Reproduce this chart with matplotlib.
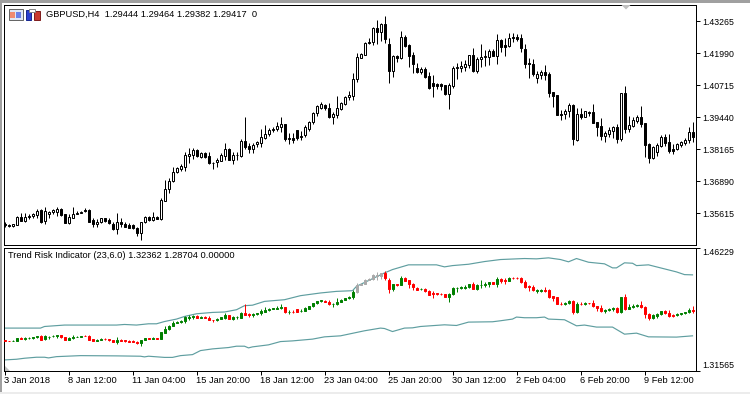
import matplotlib
matplotlib.use("Agg")
import matplotlib.pyplot as plt
from matplotlib.patches import Polygon, Rectangle
from matplotlib.transforms import Affine2D

highs = [
    1.3526, 1.3518, 1.3521, 1.3551, 1.3562, 1.3562, 1.3558, 1.3563, 1.3578, 1.3579, 1.3586, 1.3571,
    1.3579, 1.3586, 1.3584, 1.3558, 1.3560, 1.3586, 1.3572, 1.3572, 1.3582, 1.3579, 1.3542, 1.3538,
    1.3545, 1.3545, 1.3542, 1.3526, 1.3562, 1.3542, 1.3526, 1.3525, 1.3521, 1.3509, 1.3529, 1.3553,
    1.3553, 1.3566, 1.3553, 1.3623, 1.3695, 1.3703, 1.3748, 1.3748, 1.3758, 1.3807, 1.3823, 1.3821,
    1.3816, 1.3807, 1.3805, 1.3805, 1.3767, 1.3781, 1.3801, 1.3841, 1.3821, 1.3807, 1.3807, 1.3857,
    1.3947, 1.3843, 1.3841, 1.3851, 1.3896, 1.3914, 1.3900, 1.3904, 1.3924, 1.3947, 1.3917, 1.3880,
    1.3883, 1.3894, 1.3890, 1.3914, 1.3928, 1.3966, 1.3993, 1.4004, 1.3996, 1.4001, 1.3966, 1.4029,
    1.4006, 1.4029, 1.4049, 1.4119, 1.4201, 1.4200, 1.4243, 1.4260, 1.4305, 1.4331, 1.4318, 1.4347,
    1.4259, 1.4192, 1.4192, 1.4289, 1.4272, 1.4234, 1.4205, 1.4159, 1.4146, 1.4146, 1.4124, 1.4112,
    1.4082, 1.4082, 1.4073, 1.4082, 1.4150, 1.4159, 1.4169, 1.4172, 1.4192, 1.4219, 1.4185, 1.4236,
    1.4212, 1.4215, 1.4215, 1.4276, 1.4255, 1.4261, 1.4278, 1.4278, 1.4276, 1.4276, 1.4236, 1.4179,
    1.4176, 1.4130, 1.4132, 1.4152, 1.4126, 1.4046, 1.4033, 1.3973, 1.3977, 1.4000, 1.3997, 1.3980,
    1.3980, 1.3970, 1.3969, 1.3997, 1.3927, 1.3943, 1.3891, 1.3904, 1.3911, 1.3917, 1.4041, 1.4069,
    1.3949, 1.3947, 1.3953, 1.3989, 1.3923, 1.3842, 1.3830, 1.3843, 1.3874, 1.3876, 1.3876, 1.3838,
    1.3843, 1.3851, 1.3861, 1.3904, 1.3927,
]
lows = [
    1.3509, 1.3508, 1.3509, 1.3516, 1.3531, 1.3529, 1.3538, 1.3542, 1.3545, 1.3522, 1.3521, 1.3542,
    1.3558, 1.3553, 1.3553, 1.3525, 1.3520, 1.3542, 1.3558, 1.3562, 1.3568, 1.3529, 1.3509, 1.3509,
    1.3522, 1.3529, 1.3518, 1.3496, 1.3481, 1.3509, 1.3506, 1.3502, 1.3498, 1.3473, 1.3456, 1.3523,
    1.3533, 1.3531, 1.3538, 1.3535, 1.3611, 1.3643, 1.3688, 1.3721, 1.3730, 1.3730, 1.3763, 1.3778,
    1.3787, 1.3783, 1.3783, 1.3758, 1.3738, 1.3748, 1.3771, 1.3774, 1.3774, 1.3757, 1.3774, 1.3787,
    1.3818, 1.3803, 1.3801, 1.3825, 1.3827, 1.3858, 1.3871, 1.3887, 1.3891, 1.3887, 1.3851, 1.3838,
    1.3841, 1.3854, 1.3854, 1.3866, 1.3891, 1.3916, 1.3949, 1.3977, 1.3973, 1.3940, 1.3916, 1.3943,
    1.3973, 1.3994, 1.4013, 1.4013, 1.4086, 1.4179, 1.4192, 1.4236, 1.4232, 1.4235, 1.4249, 1.4239,
    1.4082, 1.4106, 1.4165, 1.4176, 1.4223, 1.4146, 1.4119, 1.4119, 1.4116, 1.4099, 1.4057, 1.4024,
    1.4056, 1.4053, 1.4033, 1.3978, 1.4061, 1.4095, 1.4126, 1.4128, 1.4139, 1.4126, 1.4122, 1.4146,
    1.4150, 1.4152, 1.4188, 1.4156, 1.4203, 1.4189, 1.4225, 1.4245, 1.4249, 1.4205, 1.4142, 1.4102,
    1.4110, 1.4082, 1.4095, 1.4093, 1.4025, 1.3986, 1.3953, 1.3935, 1.3936, 1.3947, 1.3834, 1.3850,
    1.3937, 1.3944, 1.3950, 1.3920, 1.3871, 1.3854, 1.3846, 1.3867, 1.3863, 1.3843, 1.3850, 1.3880,
    1.3887, 1.3907, 1.3920, 1.3907, 1.3787, 1.3763, 1.3777, 1.3790, 1.3827, 1.3830, 1.3803, 1.3797,
    1.3814, 1.3827, 1.3834, 1.3841, 1.3847,
]
opens = [
    1.3521, 1.3516, 1.3510, 1.3516, 1.3547, 1.3533, 1.3546, 1.3550, 1.3555, 1.3575, 1.3531, 1.3561,
    1.3568, 1.3568, 1.3579, 1.3558, 1.3525, 1.3545, 1.3559, 1.3563, 1.3575, 1.3575, 1.3535, 1.3518,
    1.3526, 1.3542, 1.3537, 1.3521, 1.3500, 1.3527, 1.3520, 1.3516, 1.3516, 1.3502, 1.3485, 1.3529,
    1.3547, 1.3535, 1.3546, 1.3539, 1.3612, 1.3658, 1.3692, 1.3726, 1.3738, 1.3748, 1.3791, 1.3794,
    1.3814, 1.3786, 1.3801, 1.3789, 1.3763, 1.3765, 1.3771, 1.3790, 1.3818, 1.3774, 1.3793, 1.3791,
    1.3850, 1.3830, 1.3818, 1.3837, 1.3843, 1.3861, 1.3876, 1.3892, 1.3896, 1.3907, 1.3917, 1.3858,
    1.3861, 1.3894, 1.3866, 1.3874, 1.3896, 1.3924, 1.3960, 1.3982, 1.3993, 1.3980, 1.3947, 1.3953,
    1.3978, 1.3998, 1.4024, 1.4030, 1.4095, 1.4181, 1.4193, 1.4239, 1.4243, 1.4298, 1.4285, 1.4315,
    1.4237, 1.4130, 1.4188, 1.4181, 1.4263, 1.4232, 1.4192, 1.4139, 1.4126, 1.4135, 1.4109, 1.4079,
    1.4077, 1.4075, 1.4073, 1.4037, 1.4069, 1.4139, 1.4142, 1.4146, 1.4152, 1.4192, 1.4130, 1.4175,
    1.4183, 1.4185, 1.4208, 1.4189, 1.4252, 1.4232, 1.4229, 1.4264, 1.4264, 1.4259, 1.4216, 1.4160,
    1.4156, 1.4102, 1.4112, 1.4124, 1.4116, 1.4044, 1.4033, 1.3957, 1.3956, 1.3969, 1.3993, 1.3854,
    1.3957, 1.3947, 1.3966, 1.3964, 1.3924, 1.3910, 1.3870, 1.3878, 1.3891, 1.3906, 1.3858, 1.4040,
    1.3898, 1.3911, 1.3931, 1.3944, 1.3920, 1.3838, 1.3782, 1.3807, 1.3830, 1.3865, 1.3845, 1.3817,
    1.3817, 1.3834, 1.3843, 1.3853, 1.3884,
]
closes = [
    1.3516, 1.3510, 1.3518, 1.3547, 1.3533, 1.3547, 1.3551, 1.3558, 1.3571, 1.3529, 1.3571, 1.3566,
    1.3574, 1.3579, 1.3555, 1.3525, 1.3546, 1.3559, 1.3564, 1.3568, 1.3571, 1.3529, 1.3518, 1.3529,
    1.3542, 1.3531, 1.3522, 1.3498, 1.3526, 1.3518, 1.3509, 1.3505, 1.3502, 1.3485, 1.3526, 1.3549,
    1.3537, 1.3549, 1.3541, 1.3615, 1.3659, 1.3692, 1.3726, 1.3741, 1.3750, 1.3793, 1.3798, 1.3814,
    1.3790, 1.3802, 1.3786, 1.3763, 1.3762, 1.3774, 1.3794, 1.3818, 1.3774, 1.3794, 1.3794, 1.3851,
    1.3827, 1.3819, 1.3835, 1.3846, 1.3865, 1.3878, 1.3894, 1.3899, 1.3910, 1.3917, 1.3858, 1.3861,
    1.3855, 1.3862, 1.3868, 1.3906, 1.3924, 1.3960, 1.3989, 1.3996, 1.3980, 1.3947, 1.3956, 1.3980,
    1.4000, 1.4024, 1.4032, 1.4095, 1.4183, 1.4195, 1.4239, 1.4244, 1.4298, 1.4285, 1.4315, 1.4255,
    1.4130, 1.4187, 1.4181, 1.4263, 1.4229, 1.4189, 1.4157, 1.4124, 1.4135, 1.4106, 1.4060, 1.4069,
    1.4069, 1.4070, 1.4037, 1.4071, 1.4139, 1.4146, 1.4148, 1.4156, 1.4191, 1.4130, 1.4175, 1.4183,
    1.4188, 1.4208, 1.4189, 1.4252, 1.4225, 1.4225, 1.4261, 1.4259, 1.4257, 1.4219, 1.4156, 1.4155,
    1.4116, 1.4115, 1.4124, 1.4112, 1.4041, 1.4029, 1.3953, 1.3953, 1.3969, 1.3993, 1.3857, 1.3957,
    1.3947, 1.3968, 1.3962, 1.3923, 1.3907, 1.3871, 1.3883, 1.3894, 1.3904, 1.3858, 1.4040, 1.3898,
    1.3912, 1.3933, 1.3945, 1.3919, 1.3835, 1.3782, 1.3825, 1.3833, 1.3865, 1.3843, 1.3811, 1.3811,
    1.3838, 1.3845, 1.3854, 1.3884, 1.3867,
]

# bars the indicator paints grey
grey_bars = [88, 89, 90, 91, 92, 93, 94]

upper_bars = [0, 9, 10, 15, 28, 30, 33, 36, 38, 40, 43, 45, 48, 52, 55, 58, 60, 62, 65, 70, 74, 79, 83, 87, 88,
              95, 97, 101, 108, 110, 112, 116, 120, 124, 130, 133, 136, 139, 141, 143, 146, 150, 152, 153,
              155, 157, 158, 161, 164, 168, 170, 172]
upper_band = [1.3666, 1.3666, 1.3685, 1.3702, 1.3702, 1.3709, 1.3702, 1.3717, 1.3717, 1.3744, 1.3773, 1.3804,
              1.3836, 1.3852, 1.3857, 1.3884, 1.3932, 1.3938, 1.3983, 1.4003, 1.4051, 1.4083, 1.4102, 1.4110,
              1.4162, 1.4321, 1.4361, 1.4417, 1.4417, 1.4393, 1.4408, 1.4424, 1.4456, 1.4480, 1.4492, 1.4488,
              1.4500, 1.4480, 1.4453, 1.4492, 1.4448, 1.4429, 1.4381, 1.4381, 1.4441, 1.4436, 1.4408, 1.4417,
              1.4381, 1.4333, 1.4301, 1.4298]
lower_bars = [0, 3, 5, 8, 10, 11, 13, 19, 28, 34, 35, 36, 40, 42, 44, 47, 49, 52, 56, 58, 60, 61, 62, 66, 69, 72,
              77, 80, 84, 90, 94, 95, 97, 100, 102, 104, 110, 113, 116, 122, 124, 127, 128, 130, 133, 135, 136,
              140, 143, 145, 148, 152, 155, 158, 161, 168, 172]
lower_band = [1.3288, 1.3296, 1.3308, 1.3320, 1.3320, 1.3312, 1.3327, 1.3339, 1.3336, 1.3332, 1.3324, 1.3332,
              1.3318, 1.3318, 1.3339, 1.3351, 1.3399, 1.3419, 1.3435, 1.3451, 1.3451, 1.3431, 1.3443, 1.3467,
              1.3506, 1.3514, 1.3535, 1.3562, 1.3574, 1.3634, 1.3666, 1.3661, 1.3625, 1.3666, 1.3669, 1.3685,
              1.3705, 1.3697, 1.3737, 1.3741, 1.3753, 1.3773, 1.3797, 1.3789, 1.3789, 1.3797, 1.3773, 1.3765,
              1.3693, 1.3702, 1.3678, 1.3678, 1.3594, 1.3606, 1.3562, 1.3559, 1.3574]

price_ticks = [1.43265, 1.41990, 1.40715, 1.39440, 1.38165, 1.36890, 1.35615]
price_labels = ["1.43265", "1.41990", "1.40715", "1.39440", "1.38165", "1.36890", "1.35615"]
time_ticks = [0, 16, 32, 48, 64, 80, 96, 112, 128, 144, 160]
time_labels = ["3 Jan 2018", "8 Jan 12:00", "11 Jan 04:00", "15 Jan 20:00", "18 Jan 12:00", "23 Jan 04:00",
               "25 Jan 20:00", "30 Jan 12:00", "2 Feb 04:00", "6 Feb 20:00", "9 Feb 12:00"]
indicator_top, indicator_bottom = 1.46229, 1.31565

FONT = "Liberation Sans"
SIZE = 6.7
SIZE_PRECO = 6.3
W, H = 750, 394
LW = 0.72


def velas(ax, cores_corpo, cores_borda):
    barras = range(len(opens))
    ax.vlines(barras, lows, highs, colors=cores_borda, linewidth=LW, zorder=2)
    baixo = [min(o, c) for o, c in zip(opens, closes)]
    altura = [abs(o - c) for o, c in zip(opens, closes)]
    ax.bar(barras, altura, width=0.5, bottom=baixo, color=cores_corpo, edgecolor=cores_borda, linewidth=LW, zorder=3)


def eixo(fig, esquerda, topo, direita, base):
    ax = fig.add_axes([esquerda / W, 1 - base / H, (direita - esquerda) / W, (base - topo) / H])
    ax.set_xlim((esquerda - 4.5) / 4, (direita - 4.5) / 4)
    for lado in ax.spines.values():
        lado.set_linewidth(LW)
    ax.yaxis.tick_right()
    return ax


def main():
    fig = plt.figure(figsize=(W / 100, H / 100), dpi=100, facecolor="white")
    px = Affine2D().scale(1, -1).translate(0, H)

    # janela
    fig.add_artist(Rectangle((0, 0), W, 2.5, transform=px, color="#a0a0a0", lw=0))
    fig.add_artist(Rectangle((0, 0), 2, H, transform=px, color="#a0a0a0", lw=0))
    fig.add_artist(Rectangle((0, 392), W, 2, transform=px, color="#ececec", lw=0))

    # grafico de precos
    topo = eixo(fig, 4, 4.5, 695.5, 245)
    topo.set_ylim(1.4411 - 0.000398 * 245, 1.4411 - 0.000398 * 4.5)
    brancos = ["white" if c >= o else "black" for o, c in zip(opens, closes)]
    velas(topo, brancos, "black")
    topo.set_xticks([])
    topo.set_yticks(price_ticks, price_labels, fontsize=SIZE_PRECO, family=FONT)
    topo.tick_params(axis="y", length=3, width=LW, pad=2, colors="black")

    # indicador
    baixo = eixo(fig, 4, 247.5, 695.5, 371)
    baixo.set_ylim(indicator_bottom, indicator_top)
    cores = ["#a9a9a9" if i in grey_bars else ("#008000" if closes[i] >= opens[i] else "#ff0000")
             for i in range(len(opens))]
    baixo.plot(upper_bars, upper_band, color="#5f9ea0", linewidth=0.85, zorder=1)
    baixo.plot(lower_bars, lower_band, color="#5f9ea0", linewidth=0.85, zorder=1)
    velas(baixo, cores, cores)
    baixo.set_yticks([indicator_top, indicator_bottom], ["", ""])
    baixo.tick_params(axis="y", length=3, width=LW)
    baixo.set_xticks(time_ticks, [""] * len(time_ticks))
    baixo.tick_params(axis="x", length=3, width=LW)
    for t, rotulo in zip(time_ticks, time_labels):
        fig.text(4 + 4 * t, 380.5, rotulo, transform=px, fontsize=SIZE, family=FONT, ha="left", va="center")
    fig.text(702, 252.5, "1.46229", transform=px, fontsize=SIZE_PRECO, family=FONT, va="center")
    fig.text(702, 365.5, "1.31565", transform=px, fontsize=SIZE_PRECO, family=FONT, va="center")

    # textos do painel
    fig.text(46, 14.5, "GBPUSD,H4  1.29444 1.29464 1.29382 1.29417  0", transform=px, fontsize=SIZE, family=FONT, va="center")
    fig.text(8, 256, "Trend Risk Indicator (23,6.0) 1.32362 1.28704 0.00000", transform=px, fontsize=SIZE, family=FONT, va="center")

    # icones
    fig.add_artist(Rectangle((8.5, 8.5), 14, 11, transform=px, fc="#dfe6f5", ec="#666666", lw=LW))
    fig.add_artist(Rectangle((10, 12), 5, 6, transform=px, fc="#f08a70", lw=0))
    fig.add_artist(Rectangle((16, 12), 5, 6, transform=px, fc="#6a80e8", lw=0))
    fig.add_artist(Rectangle((25.5, 9.5), 5.5, 10, transform=px, fc="#2a3fd0", ec="#1a2a90", lw=LW))
    fig.add_artist(Rectangle((33.5, 10.5), 6, 9, transform=px, fc="#c83a30", ec="#802020", lw=LW))
    fig.add_artist(Rectangle((29, 9), 6, 3, transform=px, fc="white", ec="#888888", lw=LW))

    # marcadores
    fig.add_artist(Polygon([(621.5, 5), (630.5, 5), (626, 9.5)], transform=px, color="#c0c0c0", lw=0))
    fig.add_artist(Polygon([(5, 366), (5, 370.5), (9.5, 370.5)], transform=px, color="#c0c0c0", lw=0))

    fig.savefig("out.png", dpi=100, facecolor="white")
    return 0


if __name__ == "__main__":
    SystemExit(main())
